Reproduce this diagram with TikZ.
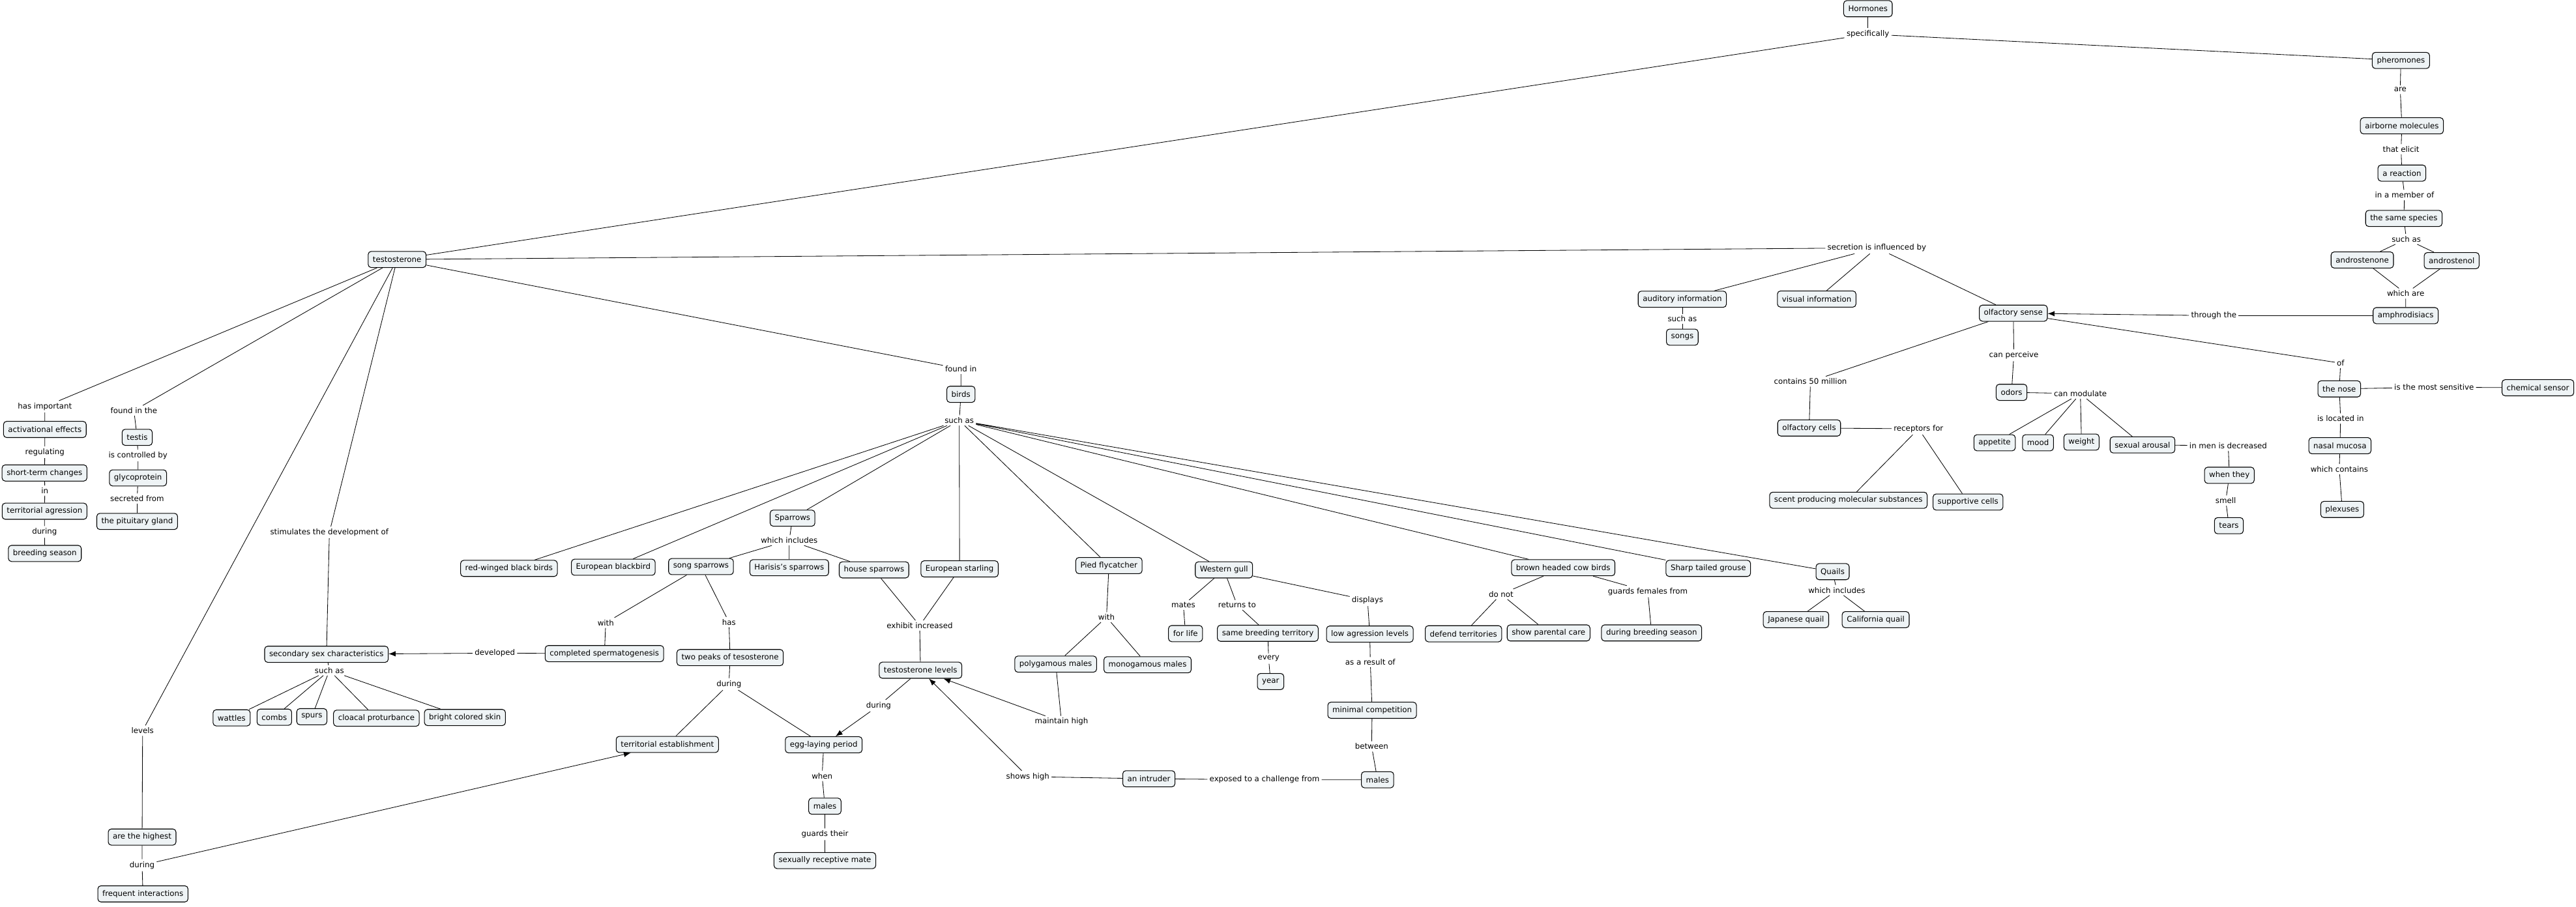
\documentclass[tikz,border=0pt]{standalone}
\usepackage{fontspec}
\setmainfont{DejaVu Sans}
\usetikzlibrary{arrows.meta}
\definecolor{boxfill}{HTML}{EEF3F5}
\begin{document}
\begin{tikzpicture}[
      x=0.075cm, y=-0.075cm,
      font=\fontsize{10}{12}\selectfont,
      line width=0.7pt,
      box/.style={draw, fill=boxfill, rounded corners=4pt, line width=0.9pt, inner xsep=6pt, inner ysep=2pt, minimum height=21pt, align=center},
      wort/.style={inner sep=2.5pt},
      pfeil/.style={-{Latex[length=9pt,width=7pt]}}
    ]
      \useasboundingbox (0,0) rectangle (1568,552);
      % concepts
      \node[box] (horm) at (1137,5.3) {Hormones};
      \node[box] (pher) at (1461.4,36.8) {pheromones};
      \node[box] (airb) at (1462,76.6) {airborne molecules};
      \node[box] (reac) at (1462,105.4) {a reaction};
      \node[box] (spec) at (1463.2,133) {the same species};
      \node[box] (anon) at (1437.9,158.3) {androstenone};
      \node[box] (anol) at (1492.3,158.7) {androstenol};
      \node[box] (amph) at (1464.3,192.2) {amphrodisiacs};
      \node[box] (olfs) at (1225.5,190.7) {olfactory sense};
      \node[box] (audi) at (1024,182.2) {auditory information};
      \node[box] (visu) at (1105.8,182.1) {visual information};
      \node[box] (song) at (1024,205.3) {songs};
      \node[box] (odor) at (1224.4,238.9) {odors};
      \node[box] (olfc) at (1101.2,260.6) {olfactory cells};
      \node[box] (scent) at (1125.1,304.6) {scent producing molecular substances};
      \node[box] (supp) at (1197.9,305.7) {supportive cells};
      \node[box] (appe) at (1214.1,269.6) {appetite};
      \node[box] (mood) at (1240.5,269.6) {mood};
      \node[box] (weig) at (1267,269.2) {weight};
      \node[box] (arou) at (1304.1,270.9) {sexual arousal};
      \node[box] (they) at (1357,289.4) {when they};
      \node[box] (tear) at (1356.7,320.1) {tears};
      \node[box] (nose) at (1423.9,236.8) {the nose};
      \node[box] (chem) at (1544.8,236.1) {chemical sensor};
      \node[box] (muco) at (1424.3,271.4) {nasal mucosa};
      \node[box] (plex) at (1425.7,310.2) {plexuses};
      \node[box] (test) at (241.7,158) {testosterone};
      \node[box] (bird) at (584.9,240.1) {birds};
      \node[box] (activ) at (27.3,261.5) {activational effects};
      \node[box] (testis) at (83.5,266.3) {testis};
      \node[box] (short) at (27.1,288) {short-term changes};
      \node[box] (glyc) at (84,291) {glycoprotein};
      \node[box] (terag) at (27.1,311.3) {territorial agression};
      \node[box] (pitu) at (83.5,317.5) {the pituitary gland};
      \node[box] (breed) at (27.3,337) {breeding season};
      \node[box] (redw) at (309.8,346.1) {red-winged black birds};
      \node[box] (eubl) at (373.3,345.4) {European blackbird};
      \node[box] (sparr) at (482.4,315.5) {Sparrows};
      \node[box] (songsp) at (426.7,345) {song sparrows};
      \node[box] (haris) at (480.4,345.7) {Harisis's sparrows};
      \node[box] (house) at (532,347) {house sparrows};
      \node[box] (star) at (584.1,346.4) {European starling};
      \node[box] (pied) at (675,344.4) {Pied flycatcher};
      \node[box] (gull) at (745,347) {Western gull};
      \node[box] (cowb) at (951.5,345.7) {brown headed cow birds};
      \node[box] (grou) at (1039.8,346.1) {Sharp tailed grouse};
      \node[box] (quai) at (1115.5,348.1) {Quails};
      \node[box] (secs) at (198.7,398.4) {secondary sex characteristics};
      \node[box] (sperm) at (367.9,398) {completed spermatogenesis};
      \node[box] (peaks) at (444.4,400.4) {two peaks of tesosterone};
      \node[box] (tlev) at (560.3,408.1) {testosterone levels};
      \node[box] (poly) at (642.6,404.4) {polygamous males};
      \node[box] (mono) at (698.5,404.8) {monogamous males};
      \node[box] (life) at (721.6,385.8) {for life};
      \node[box] (same) at (771.7,385.6) {same breeding territory};
      \node[box] (lowag) at (833.8,386.1) {low agression levels};
      \node[box] (year) at (773.4,415) {year};
      \node[box] (deft) at (890.8,385.9) {defend territories};
      \node[box] (paren) at (942.6,385.4) {show parental care};
      \node[box] (dbs) at (1005.3,385.4) {during breeding season};
      \node[box] (japq) at (1093.2,377.3) {Japanese quail};
      \node[box] (calq) at (1141.7,377.3) {California quail};
      \node[box] (watt) at (141,437.1) {wattles};
      \node[box] (comb) at (167,436.7) {combs};
      \node[box] (spur) at (189.8,436.4) {spurs};
      \node[box] (cloa) at (229.1,437.3) {cloacal proturbance};
      \node[box] (skin) at (283,436.9) {bright colored skin};
      \node[box] (terest) at (406.2,453.3) {territorial establishment};
      \node[box] (egg) at (501.4,453.5) {egg-laying period};
      \node[box] (minc) at (835.2,432.5) {minimal competition};
      \node[box] (malesr) at (838.5,474.8) {males};
      \node[box] (intr) at (699.3,474.2) {an intruder};
      \node[box] (malesc) at (502.1,490.9) {males};
      \node[box] (mate) at (502.1,524) {sexually receptive mate};
      \node[box] (high) at (86.5,509.7) {are the highest};
      \node[box] (freq) at (87,544.3) {frequent interactions};
      % linking phrases
      \node[wort] (specif) at (1137,20.8) {specifically};
      \node[wort] (are) at (1461,54.6) {are};
      \node[wort] (elic) at (1461.5,90.9) {that elicit};
      \node[wort] (memb) at (1463.6,118.7) {in a member of};
      \node[wort] (suchsp) at (1464.7,145.6) {such as};
      \node[wort] (whare) at (1464.3,178.7) {which are};
      \node[wort] (thru) at (1347.5,192.2) {through the};
      \node[wort] (secr) at (1142.4,150.9) {secretion is influenced by};
      \node[wort] (suchau) at (1024,194.2) {such as};
      \node[wort] (perc) at (1225.8,216.3) {can perceive};
      \node[wort] (cont) at (1102,232.3) {contains 50 million};
      \node[wort] (of) at (1424.7,221.1) {of};
      \node[wort] (sens) at (1481.6,235.8) {is the most sensitive};
      \node[wort] (modu) at (1266.3,239.7) {can modulate};
      \node[wort] (loca) at (1424.7,254.8) {is located in};
      \node[wort] (rece) at (1167.8,261.1) {receptors for};
      \node[wort] (decr) at (1356.3,271.4) {in men is decreased};
      \node[wort] (wcont) at (1423.9,285.7) {which contains};
      \node[wort] (smell) at (1354.8,304.8) {smell};
      \node[wort] (fin) at (584.9,224.6) {found in};
      \node[wort] (suchb) at (583.9,256) {such as};
      \node[wort] (hasimp) at (27.3,247.6) {has important};
      \node[wort] (finthe) at (81.5,250) {found in the};
      \node[wort] (regu) at (27.3,275.4) {regulating};
      \node[wort] (ctrl) at (84,277.4) {is controlled by};
      \node[wort] (in) at (27.3,298.7) {in};
      \node[wort] (secfr) at (83.5,303.6) {secreted from};
      \node[wort] (dur1) at (27.1,323.9) {during};
      \node[wort] (stim) at (200.5,324.2) {stimulates the development of};
      \node[wort] (wincs) at (480.4,329) {which includes};
      \node[wort] (wincq) at (1118,359.4) {which includes};
      \node[wort] (with1) at (368.7,379.2) {with};
      \node[wort] (has) at (443.7,378.8) {has};
      \node[wort] (exh) at (559.8,380.9) {exhibit increased};
      \node[wort] (with2) at (673.5,375.8) {with};
      \node[wort] (mates) at (720.3,368.4) {mates};
      \node[wort] (retu) at (753,368.4) {returns to};
      \node[wort] (disp) at (832.4,365.5) {displays};
      \node[wort] (donot) at (913.7,361.8) {do not};
      \node[wort] (guardf) at (1003,360.2) {guards females from};
      \node[wort] (devel) at (301.2,397.7) {developed};
      \node[wort] (suchsc) at (200.5,408.2) {such as};
      \node[wort] (levels) at (86.8,444.9) {levels};
      \node[wort] (dur2) at (443.7,416.6) {during};
      \node[wort] (dur3) at (534.8,429.7) {during};
      \node[wort] (maint) at (646.1,439.5) {maintain high};
      \node[wort] (every) at (772.2,401) {every};
      \node[wort] (resu) at (834.1,403.2) {as a result of};
      \node[wort] (betw) at (834.9,454.5) {between};
      \node[wort] (shows) at (625.6,472.9) {shows high};
      \node[wort] (expo) at (769.7,474.8) {exposed to a challenge from};
      \node[wort] (when) at (500.4,472.4) {when};
      \node[wort] (guardt) at (502.1,508) {guards their};
      \node[wort] (dur4) at (86.5,526.8) {during};
      % connectors
      \draw (horm) -- (specif);
      \draw (specif) -- (test);
      \draw (specif) -- (pher) -- (are) -- (airb) -- (elic) -- (reac) -- (memb) -- (spec) -- (suchsp);
      \draw (suchsp) -- (anon) (suchsp) -- (anol);
      \draw (anon) -- (whare) (anol) -- (whare) (whare) -- (amph);
      \draw (amph) -- (thru);
      \draw[pfeil] (thru) -- (olfs);
      \draw (test) -- (secr);
      \draw (secr) -- (audi) (secr) -- (visu) (secr) -- (olfs);
      \draw (audi) -- (suchau) -- (song);
      \draw (olfs) -- (perc) -- (odor);
      \draw (olfs) -- (cont) -- (olfc);
      \draw (olfs) -- (of) -- (nose);
      \draw (nose) -- (sens) -- (chem);
      \draw (nose) -- (loca) -- (muco) -- (wcont) -- (plex);
      \draw (olfc) -- (rece);
      \draw (rece) -- (scent) (rece) -- (supp);
      \draw (odor) -- (modu);
      \draw (modu) -- (appe) (modu) -- (mood) (modu) -- (weig) (modu) -- (arou);
      \draw (arou) -- (decr) -- (they) -- (smell) -- (tear);
      \draw (test) -- (fin) -- (bird) -- (suchb);
      \draw (suchb) -- (redw) (suchb) -- (eubl) (suchb) -- (sparr) (suchb) -- (star) (suchb) -- (pied);
      \draw (suchb) -- (gull) (suchb) -- (cowb) (suchb) -- (grou) (suchb) -- (quai);
      \draw (test) -- (hasimp) -- (activ) -- (regu) -- (short) -- (in) -- (terag) -- (dur1) -- (breed);
      \draw (test) -- (finthe) -- (testis) -- (ctrl) -- (glyc) -- (secfr) -- (pitu);
      \draw (test) -- (stim) -- (secs);
      \draw (test) -- (levels) -- (high) -- (dur4) -- (freq);
      \draw[pfeil] (dur4) -- (terest);
      \draw (secs) -- (suchsc);
      \draw (suchsc) -- (watt) (suchsc) -- (comb) (suchsc) -- (spur) (suchsc) -- (cloa) (suchsc) -- (skin);
      \draw (sparr) -- (wincs);
      \draw (wincs) -- (songsp) (wincs) -- (haris) (wincs) -- (house);
      \draw (songsp) -- (with1) -- (sperm) -- (devel);
      \draw[pfeil] (devel) -- (secs);
      \draw (songsp) -- (has) -- (peaks) -- (dur2);
      \draw (dur2) -- (terest) (dur2) -- (egg);
      \draw (house) -- (exh) (star) -- (exh) (exh) -- (tlev);
      \draw (tlev) -- (dur3);
      \draw[pfeil] (dur3) -- (egg);
      \draw (egg) -- (when) -- (malesc) -- (guardt) -- (mate);
      \draw (pied) -- (with2);
      \draw (with2) -- (poly) (with2) -- (mono);
      \draw (poly) -- (maint);
      \draw[pfeil] (maint) -- (tlev);
      \draw (gull) -- (mates) -- (life);
      \draw (gull) -- (retu) -- (same) -- (every) -- (year);
      \draw (gull) -- (disp) -- (lowag) -- (resu) -- (minc) -- (betw) -- (malesr);
      \draw (malesr) -- (expo) -- (intr) -- (shows);
      \draw[pfeil] (shows) -- (tlev);
      \draw (cowb) -- (donot);
      \draw (donot) -- (deft) (donot) -- (paren);
      \draw (cowb) -- (guardf) -- (dbs);
      \draw (quai) -- (wincq);
      \draw (wincq) -- (japq) (wincq) -- (calq);
    \end{tikzpicture}
\end{document}
